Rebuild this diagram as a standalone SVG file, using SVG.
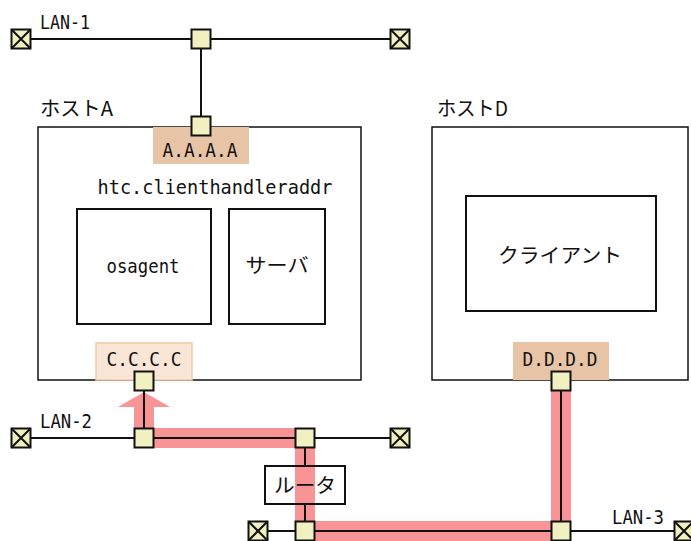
<svg xmlns="http://www.w3.org/2000/svg" width="691" height="541" viewBox="0 0 691 541">
<style>
.t{font-family:"DejaVu Sans Mono","Liberation Mono",monospace;font-size:19px;fill:#111}
.j{font-family:"Noto Sans CJK JP","Noto Sans",sans-serif;font-size:20px;fill:#111}
.box{fill:#fff;stroke:#111;stroke-width:2}
.ln{stroke:#111;stroke-width:2;fill:none}
.nd{fill:#f0f0c0;stroke:#111;stroke-width:2}
.pk{stroke:#f99496;stroke-width:20;fill:none}
</style>
<defs>
<g id="term"><rect x="-9.5" y="-9.5" width="19" height="19" class="nd"/><path d="M-9.5-9.5L9.5 9.5M9.5-9.5L-9.5 9.5" class="ln"/></g>
<rect id="node" x="-9.5" y="-9.5" width="19" height="19" class="nd"/>
</defs>
<g id="hostA">
<text class="j" x="40" y="116" textLength="73" lengthAdjust="spacingAndGlyphs">ホストA</text>
<rect class="box" x="38" y="127" width="323" height="253" style="stroke-width:1.5"/>
<rect x="153" y="127" width="96" height="37" fill="#e8c4a6"/>
<text class="t" x="200" y="157" text-anchor="middle" textLength="75" lengthAdjust="spacingAndGlyphs">A.A.A.A</text>
<text class="t" x="215" y="194" text-anchor="middle" textLength="235" lengthAdjust="spacingAndGlyphs">htc.clienthandleraddr</text>
<rect x="96" y="343" width="96" height="37" fill="#f9e6d6" stroke="#f0cba8" stroke-width="1.5"/>
<text class="t" x="144" y="366" text-anchor="middle" textLength="75" lengthAdjust="spacingAndGlyphs">C.C.C.C</text>
</g>
<g id="osagent"><rect class="box" x="77" y="209" width="134" height="115"/><text class="t" x="143" y="273" text-anchor="middle" textLength="73" lengthAdjust="spacingAndGlyphs">osagent</text></g>
<g id="server"><rect class="box" x="229" y="209" width="96" height="115"/><text class="j" x="277" y="273" text-anchor="middle" textLength="63" lengthAdjust="spacingAndGlyphs">サーバ</text></g>
<g id="hostD">
<text class="j" x="437" y="116" textLength="71" lengthAdjust="spacingAndGlyphs">ホストD</text>
<rect class="box" x="432" y="127" width="256" height="253" style="stroke-width:1.5"/>
<rect x="513" y="342" width="96" height="38" fill="#e8c4a6"/>
<text class="t" x="560" y="366" text-anchor="middle" textLength="75" lengthAdjust="spacingAndGlyphs">D.D.D.D</text>
</g>
<g id="client"><rect class="box" x="466" y="196" width="190" height="115"/><text class="j" x="560" y="263" text-anchor="middle" textLength="124" lengthAdjust="spacingAndGlyphs">クライアント</text></g>
<g id="route">
<path class="pk" d="M144 438H305V531H561V381"/>
<path d="M118 407L144 392L170 407H154V438H134V407Z" fill="#f99496"/>
</g>
<g id="connectors">
<path class="ln" d="M21 39H400M201 39V127M21 438H400M144 381V438M305 438V531M258 531H684M561 381V531"/>
</g>
<g id="router"><rect class="box" x="265" y="466" width="80" height="38"/><rect x="295" y="467" width="20" height="36" fill="#f99496"/><text class="j" x="305" y="493" text-anchor="middle" textLength="62" lengthAdjust="spacingAndGlyphs">ルータ</text></g>
<g id="labels">
<text class="t" x="40" y="29" textLength="50" lengthAdjust="spacingAndGlyphs">LAN-1</text>
<text class="t" x="40" y="428" textLength="52" lengthAdjust="spacingAndGlyphs">LAN-2</text>
<text class="t" x="612" y="524" textLength="52" lengthAdjust="spacingAndGlyphs">LAN-3</text>
</g>
<g id="nodes">
<use href="#term" x="21" y="39"/><use href="#node" x="201" y="39"/><use href="#term" x="400" y="39"/>
<use href="#node" x="201" y="126"/>
<use href="#node" x="144" y="381"/><use href="#node" x="561" y="381"/>
<use href="#term" x="21" y="438"/><use href="#node" x="144" y="438"/><use href="#node" x="305" y="438"/><use href="#term" x="400" y="438"/>
<use href="#term" x="258" y="531"/><use href="#node" x="305" y="531"/><use href="#node" x="561" y="531"/><use href="#term" x="684" y="531"/>
</g>
</svg>
